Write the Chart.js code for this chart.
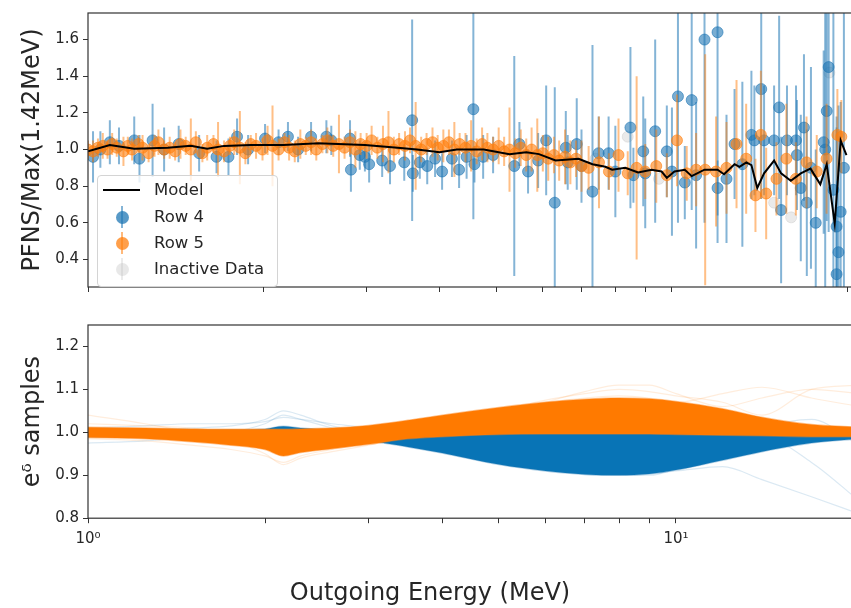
<!DOCTYPE html>
<html>
<head>
<meta charset="utf-8">
<script src="https://cdn.jsdelivr.net/npm/chart.js@4.4.0/dist/chart.umd.min.js"></script>
<style>
html, body { margin: 0; padding: 0; background: #fff; overflow: hidden; }
#wrap { position: relative; width: 860px; height: 608px; }
#top { position: absolute; left: 0; top: 0; }
#bottom { position: absolute; left: 0; top: 300px; }
#legend {
  position: absolute; left: 97px; top: 175px; width: 181px; height: 112px;
  box-sizing: border-box; border: 1px solid #d4d4d4; border-radius: 4px;
  background: rgba(255,255,255,0.8); font: 16.5px 'DejaVu Sans', sans-serif; color: #262626;
}
#legend .row { position: absolute; left: 0; width: 100%; height: 26px; }
#legend .txt { position: absolute; left: 56px; top: 50%; transform: translateY(-52%); white-space: nowrap; }
#legend .ln { position: absolute; left: 5px; top: 12px; width: 37px; height: 2px; background: #000; }
#legend .eb { position: absolute; left: 23px; top: 2px; width: 2px; height: 22px; }
#legend .dot { position: absolute; left: 17.5px; top: 6.5px; width: 13px; height: 13px; border-radius: 50%; }
</style>
</head>
<body>
<div id="wrap">
  <canvas id="top" width="860" height="300"></canvas>
  <canvas id="bottom" width="860" height="308"></canvas>
  <div id="legend">
    <div class="row" style="top:1px"><span class="ln"></span><span class="txt">Model</span></div>
    <div class="row" style="top:28px"><span class="eb" style="background:rgba(31,119,180,0.55)"></span><span class="dot" style="background:rgba(31,119,180,0.75)"></span><span class="txt">Row 4</span></div>
    <div class="row" style="top:54px"><span class="eb" style="background:rgba(255,127,14,0.55)"></span><span class="dot" style="background:rgba(255,127,14,0.75)"></span><span class="txt">Row 5</span></div>
    <div class="row" style="top:80px"><span class="eb" style="background:rgba(190,190,190,0.3)"></span><span class="dot" style="background:rgba(190,190,190,0.35)"></span><span class="txt">Inactive Data</span></div>
  </div>
</div>
<script>
"use strict";

// ---- data ----
const xTickValues = [1, 2, 3, 4, 5, 6, 7, 8, 9, 10, 20];
const xTickLabels = ['10⁰', '', '', '', '', '', '', '', '', '10¹', ''];
const topYTicks = [0.4, 0.6, 0.8, 1.0, 1.2, 1.4, 1.6];
const bottomYTicks = [0.8, 0.9, 1.0, 1.1, 1.2];

const modelE = [1.0, 1.09, 1.2, 1.37, 1.5, 1.6, 1.71, 1.9, 2.16, 2.48, 2.68, 2.98, 3.39, 3.66, 4.0, 4.28, 4.76, 5.27, 5.63, 5.92, 6.32, 6.92, 7.31, 7.69, 7.9, 8.32, 8.75, 9.23, 9.6, 9.8, 10.1, 10.52, 10.81, 11.37, 11.97, 12.28, 12.8, 13.05, 13.41, 13.68, 14.0, 14.38, 14.96, 15.38, 15.98, 16.62, 17.27, 17.95, 18.41, 19.0, 19.45, 19.9];
const modelY = [0.99, 1.025, 1.005, 1.01, 1.02, 1.005, 1.02, 1.025, 1.025, 1.035, 1.03, 1.025, 1.01, 1.0, 0.985, 1.0, 1.0, 0.975, 0.985, 0.975, 0.94, 0.95, 0.92, 0.906, 0.89, 0.9, 0.875, 0.89, 0.88, 0.845, 0.88, 0.89, 0.855, 0.89, 0.89, 0.865, 0.92, 0.905, 0.93, 0.915, 0.79, 0.87, 0.94, 0.87, 0.83, 0.87, 0.896, 0.81, 0.92, 0.595, 1.05, 0.97];

const row4E = [1.02, 1.05, 1.09, 1.13, 1.2, 1.225, 1.29, 1.35, 1.43, 1.55, 1.66, 1.74, 1.8, 1.88, 2.01, 2.12, 2.2, 2.29, 2.41, 2.56, 2.61, 2.81, 2.82, 2.92, 2.98, 3.03, 3.19, 3.29, 3.48, 3.59, 3.6, 3.7, 3.81, 3.93, 4.04, 4.2, 4.32, 4.45, 4.57, 4.59, 4.75, 4.94, 5.37, 5.48, 5.67, 5.9, 6.09, 6.3, 6.58, 6.63, 6.87, 7.0, 7.31, 7.49, 7.79, 8.0, 8.49, 8.59, 8.93, 9.0, 9.36, 9.8, 10.0, 10.24, 10.52, 10.81, 11.0, 11.37, 11.97, 11.97, 12.4, 12.8, 13.2, 13.68, 13.84, 14.22, 14.38, 14.96, 15.26, 15.38, 15.74, 16.31, 16.37, 16.62, 16.83, 17.02, 17.3, 17.63, 18.19, 18.3, 18.41, 18.55, 18.9, 19.14, 19.28, 19.14, 19.45, 19.7];
const row4Y = [0.96, 1.0, 1.04, 1.02, 1.05, 0.95, 1.05, 1.0, 1.03, 0.98, 0.96, 0.96, 1.07, 1.0, 1.06, 1.04, 1.07, 1.0, 1.07, 1.07, 1.05, 1.06, 0.89, 0.97, 0.96, 0.92, 0.94, 0.91, 0.93, 1.16, 0.87, 0.93, 0.91, 0.95, 0.88, 0.95, 0.89, 0.96, 1.22, 0.92, 0.96, 0.97, 0.91, 1.03, 0.88, 0.94, 1.05, 0.71, 1.01, 0.93, 1.03, 0.91, 0.77, 0.98, 0.98, 0.88, 1.12, 0.86, 0.99, 0.87, 1.1, 0.99, 0.88, 1.29, 0.82, 1.27, 0.86, 1.6, 1.64, 0.79, 0.84, 1.03, 0.92, 1.08, 1.05, 1.33, 1.05, 1.05, 1.23, 0.67, 1.05, 1.05, 0.97, 0.79, 1.12, 0.71, 0.9, 0.6, 1.04, 1.0, 1.21, 1.45, 0.78, 0.58, 0.44, 0.32, 0.66, 0.9];
const row4Err = [0.14, 0.1, 0.12, 0.1, 0.13, 0.13, 0.2, 0.12, 0.1, 0.1, 0.09, 0.1, 0.1, 0.08, 0.08, 0.07, 0.08, 0.07, 0.08, 0.09, 0.08, 0.1, 0.12, 0.08, 0.08, 0.1, 0.09, 0.1, 0.1, 0.55, 0.1, 0.09, 0.1, 0.1, 0.1, 0.1, 0.1, 0.12, 0.6, 0.1, 0.12, 0.1, 0.6, 0.12, 0.12, 0.15, 0.3, 0.63, 0.2, 0.15, 0.25, 0.2, 0.8, 0.2, 0.2, 0.25, 0.44, 0.15, 0.3, 0.3, 0.5, 0.25, 0.35, 0.69, 0.2, 0.6, 0.4, 1.0, 1.15, 0.15, 0.35, 0.3, 0.45, 0.35, 0.3, 0.6, 0.3, 0.3, 0.5, 0.4, 0.3, 0.3, 0.3, 0.4, 0.4, 0.4, 0.55, 0.4, 0.5, 1.1, 0.6, 0.9, 1.1, 0.6, 0.8, 0.8, 0.6, 1.2];

const row5E = [1.0, 1.02, 1.04, 1.06, 1.08, 1.1, 1.12, 1.15, 1.17, 1.19, 1.22, 1.24, 1.27, 1.3, 1.32, 1.35, 1.38, 1.41, 1.44, 1.47, 1.5, 1.53, 1.57, 1.6, 1.64, 1.67, 1.71, 1.75, 1.78, 1.82, 1.86, 1.9, 1.94, 1.99, 2.03, 2.07, 2.12, 2.17, 2.21, 2.26, 2.31, 2.36, 2.41, 2.46, 2.52, 2.57, 2.63, 2.69, 2.75, 2.81, 2.87, 2.93, 3.0, 3.06, 3.13, 3.2, 3.27, 3.34, 3.41, 3.49, 3.56, 3.64, 3.72, 3.8, 3.89, 3.97, 4.06, 4.15, 4.24, 4.33, 4.43, 4.53, 4.63, 4.73, 4.83, 4.94, 5.05, 5.16, 5.27, 5.39, 5.51, 5.63, 5.75, 5.88, 6.01, 6.14, 6.28, 6.41, 6.56, 6.7, 6.85, 7.0, 7.2, 7.5, 7.8, 8.1, 8.4, 8.7, 9.0, 9.4, 9.8, 10.2, 10.6, 11.0, 11.4, 11.9, 12.4, 12.9, 13.4, 13.9, 14.2, 14.5, 15.1, 15.7, 16.3, 17.0, 17.7, 18.4, 19.2, 19.5];
const row5Y = [1.0, 0.99, 1.01, 1.02, 1.0, 1.03, 1.01, 0.99, 1.02, 1.0, 1.03, 1.01, 0.98, 1.02, 1.04, 1.0, 1.01, 0.99, 1.03, 1.02, 1.0, 1.04, 0.98, 1.01, 1.03, 1.0, 0.99, 1.02, 1.04, 1.01, 0.98, 1.03, 1.02, 1.0, 1.05, 1.02, 1.0, 1.04, 1.01, 0.99, 1.03, 1.02, 1.04, 1.0, 1.03, 1.05, 1.02, 1.03, 1.01, 1.04, 1.0, 1.03, 1.02, 1.05, 1.01, 1.03, 1.04, 1.0, 1.03, 1.02, 1.05, 1.02, 1.0, 1.03, 1.04, 1.01, 1.02, 1.04, 1.0, 1.03, 1.01, 1.02, 0.99, 1.03, 1.01, 1.0, 1.02, 0.99, 1.0, 0.98, 1.01, 0.97, 1.0, 0.97, 0.98, 0.95, 0.97, 0.94, 0.96, 0.93, 0.95, 0.91, 0.9, 0.93, 0.88, 0.97, 0.87, 0.9, 0.88, 0.91, 0.86, 1.05, 0.87, 0.89, 0.89, 0.88, 0.9, 1.03, 0.95, 0.75, 1.08, 0.76, 0.84, 0.95, 0.84, 0.93, 0.88, 0.95, 1.08, 1.07];
const row5Err = [0.05, 0.06, 0.05, 0.07, 0.05, 0.06, 0.05, 0.08, 0.05, 0.06, 0.05, 0.07, 0.05, 0.06, 0.07, 0.05, 0.06, 0.05, 0.08, 0.05, 0.17, 0.06, 0.05, 0.07, 0.05, 0.15, 0.06, 0.05, 0.07, 0.2, 0.06, 0.05, 0.07, 0.06, 0.08, 0.22, 0.06, 0.05, 0.07, 0.06, 0.08, 0.05, 0.07, 0.06, 0.05, 0.07, 0.06, 0.16, 0.06, 0.07, 0.1, 0.06, 0.07, 0.08, 0.06, 0.1, 0.17, 0.07, 0.06, 0.08, 0.07, 0.24, 0.07, 0.06, 0.08, 0.07, 0.09, 0.07, 0.15, 0.06, 0.08, 0.14, 0.07, 0.09, 0.08, 0.07, 0.1, 0.08, 0.23, 0.08, 0.1, 0.09, 0.12, 0.2, 0.1, 0.12, 0.1, 0.11, 0.15, 0.12, 0.1, 0.14, 0.12, 0.25, 0.1, 0.2, 0.12, 0.5, 0.15, 0.2, 0.12, 0.25, 0.15, 0.2, 0.63, 0.3, 0.25, 0.35, 0.3, 0.2, 0.35, 0.25, 0.2, 0.3, 0.2, 0.25, 0.2, 0.3, 0.25, 0.2];

const inactiveE = [7.4, 8.4, 9.5, 14.96, 16.0, 18.6];
const inactiveY = [0.95, 1.07, 0.84, 0.71, 0.63, 1.42];

const sampleE = [1, 1.25, 1.5, 1.75, 2, 2.15, 2.3, 2.6, 3, 3.5, 4, 5, 6, 7, 8, 9, 10, 12, 14, 17, 20.5];
const blueLower = [0.99, 0.99, 0.99, 0.99, 0.988, 0.984, 0.986, 0.986, 0.98, 0.966, 0.952, 0.925, 0.91, 0.902, 0.9, 0.903, 0.912, 0.935, 0.955, 0.975, 0.985];
const blueUpper = [1.008, 1.007, 1.006, 1.006, 1.008, 1.014, 1.01, 1.006, 1.004, 1.002, 1.0, 1.0, 1.0, 1.0, 1.0, 1.0, 1.0, 1.0, 1.0, 1.0, 1.0];
const orangeLower = [0.988, 0.985, 0.978, 0.97, 0.96, 0.945, 0.953, 0.962, 0.972, 0.985, 0.99, 0.995, 0.996, 0.996, 0.996, 0.996, 0.995, 0.993, 0.992, 0.99, 0.99];
const orangeUpper = [1.012, 1.01, 1.008, 1.007, 1.007, 1.007, 1.008, 1.01, 1.016, 1.028, 1.04, 1.058, 1.07, 1.077, 1.08, 1.078, 1.072, 1.055, 1.035, 1.018, 1.012];
const blueFaint = [
  [1.0, 1.005, 1.01, 1.015, 1.03, 1.05, 1.04, 1.015, 1.0, 0.975, 0.96, 0.935, 0.92, 0.91, 0.905, 0.905, 0.91, 0.92, 0.89, 0.85, 0.81],
  [0.975, 0.98, 0.99, 1.0, 1.02, 1.04, 1.03, 1.01, 0.99, 0.97, 0.955, 0.93, 0.915, 0.905, 0.9, 0.9, 0.915, 0.96, 0.99, 0.93, 0.84],
  [1.01, 1.015, 1.02, 1.02, 1.025, 1.035, 1.03, 1.02, 1.01, 0.99, 0.97, 0.94, 0.925, 0.915, 0.91, 0.915, 0.93, 0.97, 1.01, 1.03, 0.97]
];
const orangeFaint = [
  [1.04, 1.02, 1.0, 0.98, 0.95, 0.925, 0.94, 0.955, 0.97, 0.99, 1.005, 1.04, 1.07, 1.095, 1.11, 1.11, 1.09, 1.06, 1.08, 1.1, 1.09],
  [0.985, 0.98, 0.97, 0.96, 0.945, 0.93, 0.945, 0.96, 0.975, 1.0, 1.02, 1.05, 1.075, 1.09, 1.1, 1.095, 1.085, 1.07, 1.04, 1.1, 1.11],
  [1.02, 1.015, 1.01, 1.0, 0.99, 0.98, 0.985, 0.99, 1.0, 1.02, 1.035, 1.055, 1.07, 1.08, 1.085, 1.08, 1.07, 1.09, 1.105, 1.08, 1.06]
];

// ---- helpers ----
Chart.defaults.font.family = "'DejaVu Sans', sans-serif";
Chart.defaults.color = '#262626';

function pts(xs, ys) {
  return xs.map((x, i) => ({x: x, y: ys[i]}));
}

const errorBars = {
  id: 'errorBars',
  beforeDatasetDraw(chart, args) {
    const ds = chart.data.datasets[args.index];
    if (!ds.errors) return;
    const {ctx, chartArea: a, scales: {x, y}} = chart;
    ctx.save();
    ctx.beginPath();
    ctx.rect(a.left, a.top, a.right - a.left, a.bottom - a.top);
    ctx.clip();
    ctx.strokeStyle = ds.errorColor;
    ctx.lineWidth = 2;
    ds.data.forEach((p, i) => {
      const px = x.getPixelForValue(p.x);
      ctx.beginPath();
      ctx.moveTo(px, y.getPixelForValue(p.y - ds.errors[i]));
      ctx.lineTo(px, y.getPixelForValue(p.y + ds.errors[i]));
      ctx.stroke();
    });
    ctx.restore();
  }
};

const frame = {
  id: 'frame',
  afterDraw(chart) {
    const {ctx, chartArea: a} = chart;
    ctx.save();
    ctx.strokeStyle = '#333';
    ctx.lineWidth = 1.2;
    ctx.strokeRect(a.left, a.top, a.right - a.left, a.bottom - a.top);
    ctx.restore();
  }
};

function xAxis(height, showLabels) {
  return {
    type: 'logarithmic', min: 1, max: 20.46,
    afterBuildTicks: s => { s.ticks = xTickValues.map(v => ({value: v})); },
    afterFit: s => { s.height = height; },
    grid: { drawOnChartArea: false, drawTicks: true, tickLength: 5, color: '#333' },
    border: { display: false },
    ticks: { display: showLabels, autoSkip: false, maxRotation: 0, padding: 7, font: {size: 15}, callback: (v, i) => xTickLabels[i] }
  };
}

function yAxis(min, max, ticks, title) {
  return {
    min: min, max: max,
    afterBuildTicks: s => { s.ticks = ticks.map(v => ({value: v})); },
    afterFit: s => { s.width = 88; },
    grid: { drawOnChartArea: false, tickLength: 5, color: '#333' },
    border: { display: false },
    ticks: { font: {size: 15}, padding: 4, callback: v => v.toFixed(1) },
    title: { display: true, text: title, font: {size: 24}, padding: {top: 18, bottom: 0} }
  };
}

// ---- top panel ----
new Chart(document.getElementById('top'), {
  type: 'scatter',
  data: {
    datasets: [{
      label: 'Model',
      data: pts(modelE, modelY),
      showLine: true,
      borderColor: '#000',
      borderWidth: 2,
      pointRadius: 0,
      order: 1
    }, {
      label: 'Row 5',
      data: pts(row5E, row5Y),
      errors: row5Err,
      errorColor: 'rgba(255,127,14,0.5)',
      backgroundColor: 'rgba(255,127,14,0.6)',
      borderColor: 'rgba(255,127,14,0.6)',
      borderWidth: 1,
      pointRadius: 5.5,
      order: 2
    }, {
      label: 'Row 4',
      data: pts(row4E, row4Y),
      errors: row4Err,
      errorColor: 'rgba(31,119,180,0.55)',
      backgroundColor: 'rgba(31,119,180,0.6)',
      borderColor: 'rgba(31,119,180,0.6)',
      borderWidth: 1,
      pointRadius: 5.5,
      order: 3
    }, {
      label: 'Inactive Data',
      data: pts(inactiveE, inactiveY),
      backgroundColor: 'rgba(170,170,170,0.25)',
      borderColor: 'rgba(170,170,170,0.25)',
      pointRadius: 5.5,
      order: 4
    }]
  },
  options: {
    responsive: false,
    animation: false,
    layout: { padding: {top: 8, left: 0, right: 0, bottom: 0} },
    plugins: { legend: {display: false}, tooltip: {enabled: false} },
    scales: {
      x: xAxis(5, false),
      y: yAxis(0.25, 1.745, topYTicks, 'PFNS/Max(1.42MeV)')
    }
  },
  plugins: [errorBars, frame]
});

// ---- bottom panel ----
const bandLine = { pointRadius: 0, cubicInterpolationMode: 'monotone', borderWidth: 1.5 };
const bottomSets = [];
blueFaint.forEach(vals => bottomSets.push(Object.assign({}, bandLine, {
  data: pts(sampleE, vals), borderColor: 'rgba(31,119,180,0.16)', borderWidth: 1.2, fill: false, order: 6
})));
bottomSets.push(Object.assign({}, bandLine, { data: pts(sampleE, blueLower), borderColor: 'rgba(31,119,180,0.35)', fill: false, order: 5 }));
bottomSets.push(Object.assign({}, bandLine, { data: pts(sampleE, blueUpper), borderColor: 'rgba(31,119,180,0.3)', backgroundColor: 'rgb(8,116,182)', fill: '-1', order: 5 }));
orangeFaint.forEach(vals => bottomSets.push(Object.assign({}, bandLine, {
  data: pts(sampleE, vals), borderColor: 'rgba(255,127,14,0.14)', borderWidth: 1.2, fill: false, order: 3
})));
bottomSets.push(Object.assign({}, bandLine, { data: pts(sampleE, orangeLower), borderColor: 'rgba(255,127,14,0.45)', fill: false, order: 2 }));
bottomSets.push(Object.assign({}, bandLine, { data: pts(sampleE, orangeUpper), borderColor: 'rgba(255,127,14,0.45)', backgroundColor: 'rgb(255,122,0)', fill: '-1', order: 2 }));

new Chart(document.getElementById('bottom'), {
  type: 'line',
  data: { datasets: bottomSets },
  options: {
    responsive: false,
    animation: false,
    layout: { padding: {top: 25, left: 0, right: 0, bottom: 0} },
    plugins: {
      legend: {display: false},
      tooltip: {enabled: false},
      title: {
        display: true, position: 'bottom', text: 'Outgoing Energy (MeV)',
        font: {size: 24, weight: 'normal'}, color: '#262626', padding: {top: 0, bottom: 0}
      }
    },
    scales: {
      x: xAxis(61, true),
      y: yAxis(0.8, 1.25, bottomYTicks, 'eᵟ samples')
    }
  },
  plugins: [frame]
});
</script>
</body>
</html>
